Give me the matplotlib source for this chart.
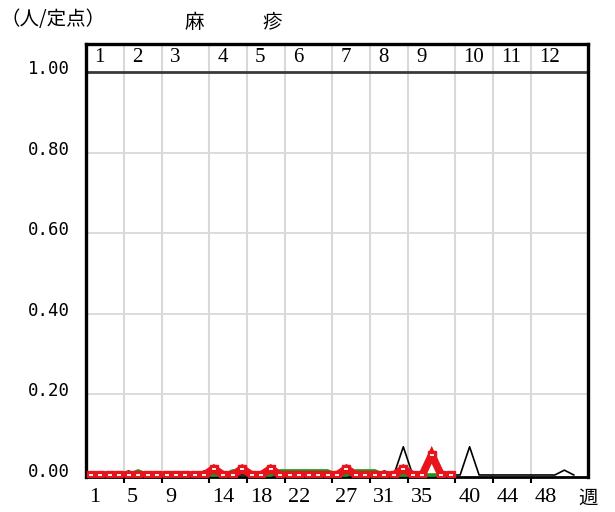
import matplotlib
matplotlib.use('Agg')
import matplotlib.pyplot as plt
from matplotlib.transforms import blended_transform_factory, ScaledTranslation

# ---------------- data ----------------
black_weeks = list(range(1, 53))
black_vals = [0.0] * 52
for w, v in {5: 0.01, 13: 0.01, 27: 0.005, 32: 0.01, 34: 0.07, 41: 0.07, 51: 0.012}.items():
    black_vals[w - 1] = v

cur_weeks = list(range(1, 40))
red_vals = [0.0] * 39
for w, v in {14: 0.016, 17: 0.016, 20: 0.016, 28: 0.016, 34: 0.016, 37: 0.05}.items():
    red_vals[w - 1] = v

green_vals = [0.0] * 39
for w in [6, 16, 17, 21, 22, 23, 24, 25, 26, 29, 30, 31]:
    green_vals[w - 1] = 0.01

x_tick_weeks = [1, 5, 9, 14, 18, 22, 27, 31, 35, 40, 44, 48]
x_tick_labels = ['1', '5', '9', '14', '18', '22', '27', '31', '35', '40', '44', '48']
month_labels = ['1', '2', '3', '4', '5', '6', '7', '8', '9', '10', '11', '12']
y_ticks = [0.0, 0.2, 0.4, 0.6, 0.8, 1.0]
y_tick_labels = ['0.00', '0.20', '0.40', '0.60', '0.80', '1.00']

# ---------------- figure ----------------
W, H = 615, 512
fig = plt.figure(figsize=(W / 100, H / 100), dpi=100)
L, R, T, B = 86, 588, 44, 477
ax = fig.add_axes([L / W, 1 - B / H, (R - L) / W, (B - T) / H])
ax.set_xlim(0.5, 53.5)
ax.set_ylim(-0.005, 1.0695)

bounds = [w - 0.5 for w in x_tick_weeks]
grid_c = '#d9d9d9'
for b in bounds[1:]:
    ax.axvline(b, color=grid_c, lw=1.5, zorder=1)
for y in y_ticks[1:-1]:
    ax.axhline(y, color=grid_c, lw=1.3, zorder=1)
ax.axhline(1.0, color='#3a3a3a', lw=2.0, zorder=2)

# data lines
ax.plot(black_weeks, black_vals, color='black', lw=1.2, zorder=3)
ax.plot(cur_weeks, green_vals, color='#1a9a1a', lw=2.6, zorder=4)
ax.plot(cur_weeks, red_vals, color='#e8141b', lw=5.5, solid_joinstyle='miter',
        marker='s', ms=5.5, mec='#e8141b', mfc='#e8141b', zorder=5)
ax.plot(cur_weeks, red_vals, ls='none', marker='_', ms=3.5, mew=1.3,
        color='white', zorder=6)

# spines
for s in ['left', 'top', 'right']:
    ax.spines[s].set_linewidth(2.4)
    ax.spines[s].set_color('black')
ax.spines['bottom'].set_linewidth(2.0)
ax.spines['bottom'].set_color('black')

ax.set_yticks([])
ax.set_xticks(bounds[1:])
ax.set_xticklabels([])
ax.tick_params(axis='x', direction='out', length=4, width=1.5, color='black')

serif = ['Liberation Serif', 'DejaVu Serif']
mono = ['DejaVu Sans Mono']
cjk = ['Noto Sans CJK JP', 'DejaVu Sans']

# x tick labels (left aligned at boundaries)
tx = blended_transform_factory(ax.transData, ax.transAxes)
for b, lab in zip(bounds, x_tick_labels):
    ax.text(b, 0, lab, transform=tx + ScaledTranslation(3 / 100, -20 / 100, fig.dpi_scale_trans),
            ha='left', va='center', fontsize=16, family=serif, clip_on=False)
ax.text(53.5, 0, '週', transform=tx + ScaledTranslation(0, -21 / 100, fig.dpi_scale_trans),
        ha='center', va='center', fontsize=14, family=cjk, clip_on=False)

# month labels in the top band
for b, lab in zip(bounds, month_labels):
    ax.text(b, 1.035, lab, transform=ax.transData + ScaledTranslation(8 / 100, 0, fig.dpi_scale_trans),
            ha='left', va='center', fontsize=15, family=serif)

# y tick labels
ty = blended_transform_factory(ax.transAxes, ax.transData)
for y, lab in zip(y_ticks, y_tick_labels):
    ax.text(0, y, lab, transform=ty + ScaledTranslation(-16 / 100, 3 / 100, fig.dpi_scale_trans),
            ha='right', va='center', fontsize=12.5, family=mono, clip_on=False)

# titles
fig.text(0 / W, 1 - 19 / H, '（人/定点）', ha='left', va='center', fontsize=14, family=cjk)
fig.text(234 / W, 1 - 23 / H, '麻　　　疹', ha='center', va='center', fontsize=14, family=cjk)

fig.savefig('out.png', dpi=100)
